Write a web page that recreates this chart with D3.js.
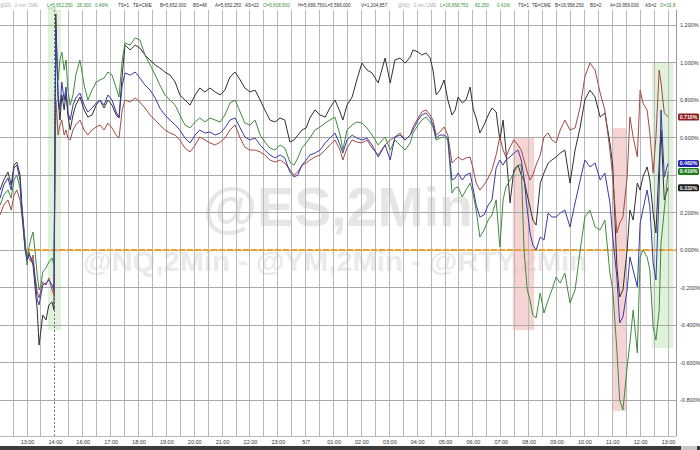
<!DOCTYPE html>
<html><head><meta charset="utf-8">
<script src="https://cdn.jsdelivr.net/npm/d3@7"></script>
<style>body{margin:0;background:#fff;}svg{display:block;font-family:"Liberation Sans",Arial,sans-serif;}</style>
</head><body><svg id="c" width="700" height="450"></svg>
<script>
// chart minutes from 13:00 (session time axis)
const times = [-58,-50,-41,-34,-28,-22,-15,-11,-4,0,4,9,13,17,22,26,30,34,41,47,54,58,
62,67,71,75,80,84,88,93,99,105,
114,123,131,140,149,157,166,174,183,192,
198,205,211,222,233,243,254,265,276,286,
297,308,319,329,340,351,362,372,383,394,
405,416,426,437,448,459,469,480,491,502,
512,523,534,545,555,566,575,583,592,601,
609,620,631,642,652,663,674,680,689,700,
710,721,732,743,756,771,782,792,803,814,
825,831,842,850,859,868,874,881,889,898,
906,915,922,928,937,945,954,961,967,975,
984,993,1001,1010,1018,1025,1031,1040,1048,1057,
1064,1070,1077,1083,1089,1096,1105,1113,1122,1130,
1139,1148,1158,1169,1180,1191,1201,1212,1223,1234,
1244,1255,1261,1270,1276,1283,1292,1298,1305,1314,
1320,1326,1335,1341,1348,1354,1361,1365,1372,1380];

const ymValues = [0.32,0.373,0.416,0.347,0.453,0.469,0.4,0.24,0.027,-0.043,-0.011,-0.053,-0.08,-0.187,-0.32,-0.507,-0.427,-0.347,-0.373,-0.293,-0.277,-0.32,
1.259,0.8,0.693,0.827,0.747,0.837,0.72,0.64,0.72,0.773,
0.816,0.747,0.709,0.72,0.773,0.8,0.757,0.8,0.773,0.72,
0.704,0.933,1.093,1.067,1.093,1.077,1.04,1.013,0.987,0.971,
0.949,0.933,0.896,0.827,0.8,0.773,0.827,0.864,0.843,0.864,
0.843,0.827,0.853,0.923,0.949,0.907,0.864,0.843,0.853,0.8,
0.747,0.693,0.683,0.704,0.693,0.576,0.587,0.613,0.64,0.651,
0.704,0.747,0.72,0.709,0.757,0.8,0.736,0.693,0.773,0.816,
0.907,0.997,0.96,0.944,0.891,1.024,0.891,1.013,1.024,0.997,
1.029,1.067,1.056,1.04,1.051,1.024,0.96,0.827,0.853,0.907,
0.8,0.72,0.747,0.816,0.784,0.8,0.869,0.747,0.704,0.624,
0.667,0.72,0.757,0.736,0.587,0.693,0.533,0.251,0.427,0.453,
0.4,0.373,0.293,0.229,0.16,0.133,0.357,0.411,0.464,0.48,
0.496,0.517,0.533,0.357,0.533,0.656,0.8,0.853,0.816,0.709,
0.731,0.571,0.453,-0.091,-0.251,-0.213,0,0.213,0.16,0.357,
0.32,0.389,0.443,0.373,0.197,0.091,0.464,0.64,0.267,0.332];

const rtyValues = [0.187,0.24,0.267,0.213,0.293,0.32,0.267,0.187,0,-0.027,-0.043,-0.064,-0.027,-0.133,-0.224,-0.256,-0.213,-0.171,-0.187,-0.149,-0.213,-0.24,
0.8,0.613,0.667,0.693,0.613,0.64,0.597,0.587,0.64,0.667,
0.693,0.64,0.613,0.64,0.656,0.667,0.64,0.677,0.651,0.613,
0.597,0.747,0.8,0.789,0.811,0.789,0.757,0.72,0.693,0.667,
0.64,0.624,0.613,0.587,0.544,0.523,0.56,0.603,0.587,0.571,
0.56,0.576,0.597,0.64,0.667,0.597,0.549,0.533,0.533,0.523,
0.507,0.48,0.469,0.48,0.464,0.427,0.4,0.416,0.453,0.464,
0.48,0.496,0.507,0.533,0.56,0.587,0.533,0.48,0.544,0.587,
0.576,0.571,0.587,0.544,0.507,0.56,0.587,0.603,0.624,0.587,
0.613,0.656,0.704,0.736,0.747,0.72,0.693,0.613,0.629,0.656,
0.613,0.464,0.48,0.496,0.48,0.491,0.496,0.427,0.357,0.32,
0.347,0.384,0.427,0.507,0.603,0.533,0.496,0.549,0.587,0.56,
0.533,0.48,0.416,0.373,0.4,0.453,0.507,0.603,0.624,0.587,
0.571,0.64,0.693,0.64,0.651,0.763,0.923,0.997,0.96,0.837,
0.747,0.533,0.389,0.091,0.144,0.176,0.389,0.709,0.603,0.496,
0.853,0.784,0.747,0.624,0.411,0.603,0.96,0.891,0.731,0.71];

const esValues = [0.277,0.347,0.384,0.32,0.437,0.453,0.373,0.213,0,-0.053,-0.027,-0.043,-0.064,-0.149,-0.267,-0.293,-0.24,-0.187,-0.176,-0.16,-0.187,-0.213,
1.173,0.827,0.747,0.896,0.8,0.869,0.736,0.693,0.773,0.811,
0.837,0.773,0.736,0.757,0.784,0.8,0.773,0.827,0.8,0.736,
0.704,0.88,0.944,0.933,0.949,0.917,0.88,0.853,0.811,0.757,
0.72,0.693,0.667,0.64,0.597,0.571,0.613,0.64,0.624,0.629,
0.613,0.624,0.651,0.693,0.704,0.651,0.603,0.587,0.597,0.56,
0.533,0.507,0.491,0.507,0.491,0.416,0.389,0.4,0.453,0.48,
0.507,0.517,0.533,0.571,0.597,0.624,0.56,0.517,0.587,0.613,
0.597,0.587,0.597,0.56,0.496,0.56,0.48,0.603,0.613,0.587,
0.613,0.64,0.693,0.72,0.731,0.704,0.667,0.597,0.613,0.613,
0.597,0.373,0.384,0.411,0.373,0.4,0.411,0.32,0.24,0.176,
0.187,0.24,0.267,0.437,0.48,0.453,0.48,0.496,0.517,0.533,
0.48,0.384,0.213,0.091,0.027,0,0.069,0.053,0.197,0.176,
0.176,0.197,0.213,0.123,0.251,0.373,0.48,0.443,0.464,0.373,
0.411,0.251,0.069,-0.144,-0.389,-0.357,-0.213,-0.037,-0.107,-0.197,
0.144,0.213,0.32,0.229,-0.069,-0.16,0.32,0.747,0.389,0.462];

const nqValues = [0.24,0.293,0.32,0.277,0.373,0.4,0.331,0.213,0.053,-0.08,0.011,0.064,0.096,0,-0.133,-0.213,-0.187,-0.117,-0.096,-0.064,-0.043,-0.08,
1.12,0.907,1.013,1.056,0.96,1.013,0.853,0.773,0.827,0.933,
1.013,0.88,0.8,0.853,0.896,0.907,0.917,0.949,0.933,0.864,
0.816,1.013,1.104,1.093,1.131,1.12,1.04,0.987,0.933,0.88,
0.827,0.8,0.773,0.72,0.667,0.651,0.683,0.704,0.683,0.704,
0.693,0.683,0.72,0.784,0.8,0.736,0.677,0.667,0.693,0.613,
0.576,0.544,0.533,0.56,0.544,0.469,0.453,0.491,0.544,0.571,
0.597,0.64,0.656,0.677,0.693,0.709,0.613,0.533,0.64,0.667,
0.683,0.677,0.651,0.613,0.56,0.603,0.533,0.587,0.56,0.533,
0.571,0.624,0.667,0.693,0.709,0.683,0.656,0.587,0.597,0.603,
0.587,0.304,0.331,0.336,0.283,0.32,0.357,0.293,0.213,0.069,
0.107,0.16,0.187,0.267,0.016,0.267,0.336,0.373,0.411,0.453,
0.453,0,-0.213,-0.267,-0.347,-0.363,-0.229,-0.336,-0.267,-0.213,
-0.144,-0.176,-0.123,-0.283,-0.213,0,0.176,0.213,0.123,0.107,
0.16,-0.123,-0.213,-0.533,-0.8,-0.853,-0.624,-0.496,-0.32,-0.549,
-0.037,0,-0.037,-0.107,-0.411,-0.48,-0.32,0.037,0.213,0.419];

const xTickMinutes = d3.range(0, 1381, 60);
const xTickLabels = ["13:00","14:00","16:00","17:00","18:00","19:00","20:00","21:00","22:00","23:00","5/7","01:00","02:00","03:00","04:00","05:00","06:00","07:00","08:00","09:00","10:00","11:00","12:00","13:00"];
const yTickValues = [1.2,1.0,0.8,0.6,0.4,0.2,0,-0.2,-0.4,-0.6,-0.8];
// shaded zones: [startMin, endMin, topPct, bottomPct]
const greenZones = [[45,73,1.29,-0.427],[1346,1391,0.997,-0.523]];
const redZones = [[1046,1092,0.603,-0.427],[1261,1290,0.651,-0.859]];
const lastValues = [["rty",0.710,"0.710%"],["es",0.462,"0.462%"],["nq",0.419,"0.419%"],["ym",0.332,"0.332%"]];
const headerTokens = [
 ["@ES - 2 min CME",0,"g"],["L=5,652.250",47,"v"],["26.000",77,"v"],["0.46%",95,"v"],["TS=1",118,"k"],["TE=CME",133,"k"],["B=5,652.000",160,"k"],["BS=48",193,"k"],["A=5,652.250",215,"k"],["AS=22",245,"k"],["O=5,608.500",263,"v"],["H=5,689.750",298,"k"],["L=5,596.000",325,"k"],["V=1,204,857",361,"k"],
 ["@NQ - 2 min CME",398,"g"],["L=19,958.750",440,"v"],["82.250",475,"v"],["0.41%",497,"v"],["TS=1",518,"k"],["TE=CME",532,"k"],["B=19,958.250",555,"k"],["BS=2",590,"k"],["A=19,959.000",610,"k"],["AS=2",645,"k"],["O=19,876.500",660,"v"]];

const svg = d3.select("#c");
const PR = 676, PT = 10, PB = 436;
const x = d3.scaleLinear().domain([0,1380]).range([27,668]);
const y = d3.scaleLinear().domain([0,1.2]).range([250,25]);
const colors = {ym:"#303030", rty:"#a24a44", es:"#3a3aa8", nq:"#3f8a3f"};
const boxColors = {ym:"#1a1a1a", rty:"#8e1c1c", es:"#2424b0", nq:"#1f7d1f"};

svg.append("rect").attr("width",700).attr("height",450).attr("fill","#fff");
const defs = svg.append("defs");
defs.append("clipPath").attr("id","pc").append("rect").attr("x",0).attr("y",PT).attr("width",PR).attr("height",PB-PT);
defs.append("clipPath").attr("id","hclip").append("rect").attr("x",0).attr("y",0).attr("width",PR).attr("height",PT);

// watermarks
svg.append("text").attr("x",338).attr("y",226).attr("text-anchor","middle")
 .attr("font-size",56).attr("font-weight","bold").attr("fill","#e6e6e6")
 .attr("textLength",270).attr("lengthAdjust","spacingAndGlyphs").text("@ES,2Min");
svg.append("text").attr("x",335).attr("y",271).attr("text-anchor","middle")
 .attr("font-size",27).attr("font-weight","bold").attr("fill","#eaeaea")
 .attr("textLength",504).attr("lengthAdjust","spacingAndGlyphs").text("@NQ,2Min - @YM,2Min - @RTY,2Min");

// shaded zones
const zg = svg.append("g").attr("clip-path","url(#pc)");
zg.selectAll("rect.g").data(greenZones).join("rect")
 .attr("x",d=>x(d[0])).attr("width",d=>x(d[1])-x(d[0]))
 .attr("y",d=>y(d[2])).attr("height",d=>y(d[3])-y(d[2]))
 .attr("fill","#cdeac4").attr("fill-opacity",0.6);
zg.selectAll("rect.r").data(redZones).join("rect")
 .attr("x",d=>x(d[0])).attr("width",d=>x(d[1])-x(d[0]))
 .attr("y",d=>y(d[2])).attr("height",d=>y(d[3])-y(d[2]))
 .attr("fill","#f2b8b8").attr("fill-opacity",0.6);

// grid
const grid = svg.append("g");
grid.selectAll("line.v").data(d3.range(-30,1381,30)).join("line")
 .attr("x1",d=>x(d)).attr("x2",d=>x(d)).attr("y1",PT).attr("y2",PB)
 .attr("stroke",d=>d===60?"#777":"#b9b9b9").attr("stroke-width",1)
 .attr("stroke-dasharray",d=>d===60?"2,2":null).attr("shape-rendering","crispEdges");
grid.selectAll("line.h").data(yTickValues).join("line")
 .attr("x1",0).attr("x2",PR).attr("y1",d=>y(d)).attr("y2",d=>y(d))
 .attr("stroke","#a8a8a8").attr("shape-rendering","crispEdges");
svg.append("line").attr("x1",PR+0.5).attr("x2",PR+0.5).attr("y1",PT).attr("y2",PB).attr("stroke","#999");
svg.append("line").attr("x1",0).attr("x2",PR).attr("y1",PB+0.5).attr("y2",PB+0.5).attr("stroke","#bbb");

// zero line
svg.append("line").attr("x1",x(0)).attr("x2",PR).attr("y1",y(0)).attr("y2",y(0))
 .attr("stroke","#f0a028").attr("stroke-width",2).attr("stroke-dasharray","6,2");

// series lines
const line = d3.line().x((d,i)=>x(times[i])).y(d=>y(d));
const lg = svg.append("g").attr("clip-path","url(#pc)");
[["ym",ymValues],["rty",rtyValues],["nq",nqValues],["es",esValues]].forEach(([k,vals])=>{
  lg.append("path").datum(vals).attr("d",line).attr("fill","none")
   .attr("stroke",colors[k]).attr("stroke-width",1).attr("stroke-linejoin","round");
});

// right axis (labels hidden behind last-value boxes are not shown, as in the reference)
const fmt = d => (d<0?"-":"") + Math.abs(d).toFixed(3) + "%";
const covered = d => lastValues.some(v => Math.abs(y(v[1]) - y(d)) < 7);
const ra = svg.append("g").attr("transform",`translate(${PR},0)`)
 .call(d3.axisRight(y).tickValues(yTickValues.filter(d=>!covered(d))).tickFormat(fmt).tickSize(0).tickPadding(4));
ra.select(".domain").remove();
ra.selectAll("text").attr("font-size",5.5).attr("fill","#333").attr("font-family","Liberation Sans, Arial, sans-serif");

// bottom axis
const ba = svg.append("g").attr("transform",`translate(0,${PB})`)
 .call(d3.axisBottom(x).tickValues(xTickMinutes).tickFormat((d,i)=>xTickLabels[i]).tickSize(0).tickPadding(4));
ba.select(".domain").remove();
ba.selectAll("text").attr("font-size",5.5).attr("fill","#333").attr("font-family","Liberation Sans, Arial, sans-serif");

// last value boxes
const lb = svg.selectAll("g.lv").data(lastValues).join("g")
 .attr("transform",d=>`translate(${PR+2},${y(d[1])})`);
lb.append("rect").attr("x",0).attr("y",-3.5).attr("width",21).attr("height",7).attr("rx",1.5).attr("fill",d=>boxColors[d[0]]);
lb.append("text").attr("x",10.5).attr("y",1.9).attr("text-anchor","middle").attr("font-size",5.2).attr("font-weight","bold").attr("fill","#fff").text(d=>d[2]);

// header
svg.append("rect").attr("x",0).attr("y",0).attr("width",PR).attr("height",PT).attr("fill","#fff");
svg.append("rect").attr("x",x(greenZones[0][0])).attr("y",7).attr("width",8).attr("height",PT-7).attr("fill","#cdeac4");
const hc = {g:"#b0b0b0", v:"#3a8f3a", k:"#333"};
svg.append("g").attr("clip-path","url(#hclip)").selectAll("text").data(headerTokens).join("text")
 .attr("x",d=>d[1]).attr("y",6.5).attr("font-size",4.6).attr("fill",d=>hc[d[2]]).text(d=>d[0]);

// bottom bar
svg.append("rect").attr("x",0).attr("y",446).attr("width",700).attr("height",4).attr("fill","#3c3c3c");
svg.append("rect").attr("x",681).attr("y",446).attr("width",16).attr("height",4).attr("fill","#c8c8c8");
</script></body></html>
